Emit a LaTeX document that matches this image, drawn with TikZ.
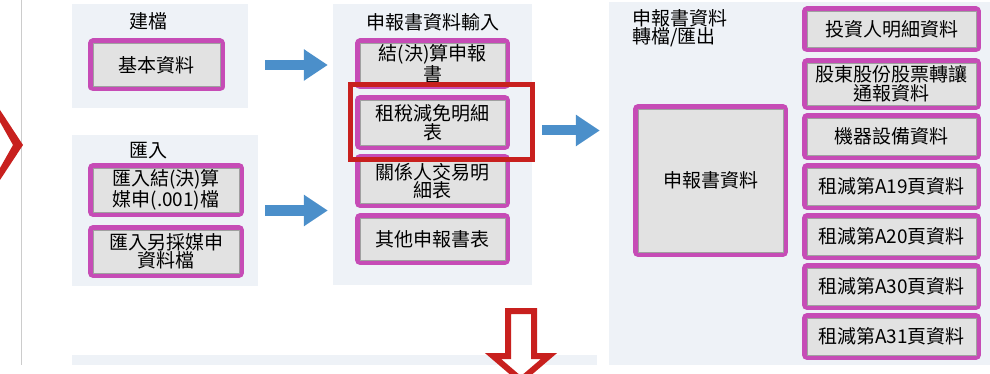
\documentclass[tikz,border=0pt]{standalone}
\usepackage{fontspec}
\setmainfont{Noto Sans CJK TC}
\usetikzlibrary{positioning,arrows.meta}
\definecolor{PanelBg}{HTML}{EEF2F7}
\definecolor{BoxGray}{HTML}{E2E2E2}
\definecolor{BoxEdge}{HTML}{A0A0A0}
\definecolor{Magenta}{HTML}{C64CB6}
\definecolor{FlowBlue}{HTML}{4B8FCA}
\definecolor{MarkRed}{HTML}{C8201E}

\begin{document}
\begin{tikzpicture}[x=1pt, y=-1pt,
		every node/.style={font=\fontsize{19}{16}\selectfont, inner sep=0, align=center},
		panel/.style={fill=PanelBg},
		itembox/.style={fill=BoxGray, draw=BoxEdge, line width=.8pt, preaction={draw=Magenta, line width=10pt, line join=round}},
		flowarrow/.style={FlowBlue, line width=10pt, -{Triangle[length=24pt, width=30pt]}},
		redmark/.style={draw=MarkRed, line width=5pt}
		]
		\useasboundingbox (0,0) rectangle (990,374);
		\clip (0,0) rectangle (990,374);
		\draw[black!20] (21,0) -- (21,365);
		\fill[MarkRed] (0,110) -- (23,145) -- (0,180) -- (0,168) -- (13,145) -- (0,122) -- cycle;

		% panels
		\node[panel, minimum width=176, minimum height=104] (pJD) at (160,56) {};
		\node[panel, minimum width=186, minimum height=151] (pHR) at (165,210.5) {};
		\node[panel, minimum width=199, minimum height=281] (pSR) at (432.5,144.5) {};
		\node[panel, minimum width=386, minimum height=363] (pZD) at (802,183.5) {};
		\node[panel, minimum width=525, minimum height=10] (pBT) at (334.5,360) {};

		\node (tJD) at (148,21) {建檔};
		\node (tHR) at (148,151) {匯入};
		\node (tSR) at (433,22) {申報書資料輸入};
		\node[anchor=north west, align=left] (tZD) at (632,9) {申報書資料\\轉檔/匯出};

		% input boxes
		\node[itembox, minimum width=127, minimum height=43] (bJB) at (156.5,65) {基本資料};
		\node[itembox, minimum width=146, minimum height=44] (bHR1) at (166,190) {匯入結(決)算\\媒申(.001)檔};
		\node[itembox, minimum width=146, minimum height=43] (bHR2) at (166,251.5) {匯入另採媒申\\資料檔};

		\node[itembox, minimum width=145, minimum height=41] (bJS) at (432.5,64) {結(決)算申報\\書};
		\node[itembox, minimum width=145, minimum height=45] (bZM) at (432.5,122.5) {租稅減免明細\\表};
		\node[itembox, minimum width=145, minimum height=44] (bGX) at (432.5,181) {關係人交易明\\細表};
		\node[itembox, minimum width=145, minimum height=42] (bQT) at (432.5,239) {其他申報書表};
		\node[redmark, minimum width=182, minimum height=75] (hl) at (441.5,122) {};

		% output boxes
		\node[itembox, minimum width=145, minimum height=143] (bSB) at (710.5,180.5) {申報書資料};
		\node[itembox, minimum width=169, minimum height=36] (r1) at (891.5,29.5) {投資人明細資料};
		\node[itembox, minimum width=169, minimum height=42] (r2) at (891.5,84) {股東股份股票轉讓\\通報資料};
		\node[itembox, minimum width=169, minimum height=37] (r3) at (891.5,136.5) {機器設備資料};
		\node[itembox, minimum width=169, minimum height=37] (r4) at (891.5,186.5) {租減第A19頁資料};
		\node[itembox, minimum width=169, minimum height=37] (r5) at (891.5,236.5) {租減第A20頁資料};
		\node[itembox, minimum width=169, minimum height=37] (r6) at (891.5,286.5) {租減第A30頁資料};
		\node[itembox, minimum width=169, minimum height=37] (r7) at (891.5,336.5) {租減第A31頁資料};

		\coordinate (a3) at ([yshift=-8pt]bZM.east);
		\draw[flowarrow, shorten <=17pt, shorten >=5pt] (pJD.east |- bJB) -- (pSR.west |- bJB);
		\draw[flowarrow, shorten <=7pt, shorten >=5pt] (pHR.east) -- (pSR.west |- pHR.east);
		\draw[flowarrow, shorten <=37pt, shorten >=9pt] (a3) -- (a3 -| pZD.west);

		\draw[MarkRed, line width=6pt, fill=white] (508,311) -- (534,311) -- (534,356) -- (549,356) -- (521,380) -- (493,356) -- (508,356) -- cycle;
	\end{tikzpicture}
\end{document}
